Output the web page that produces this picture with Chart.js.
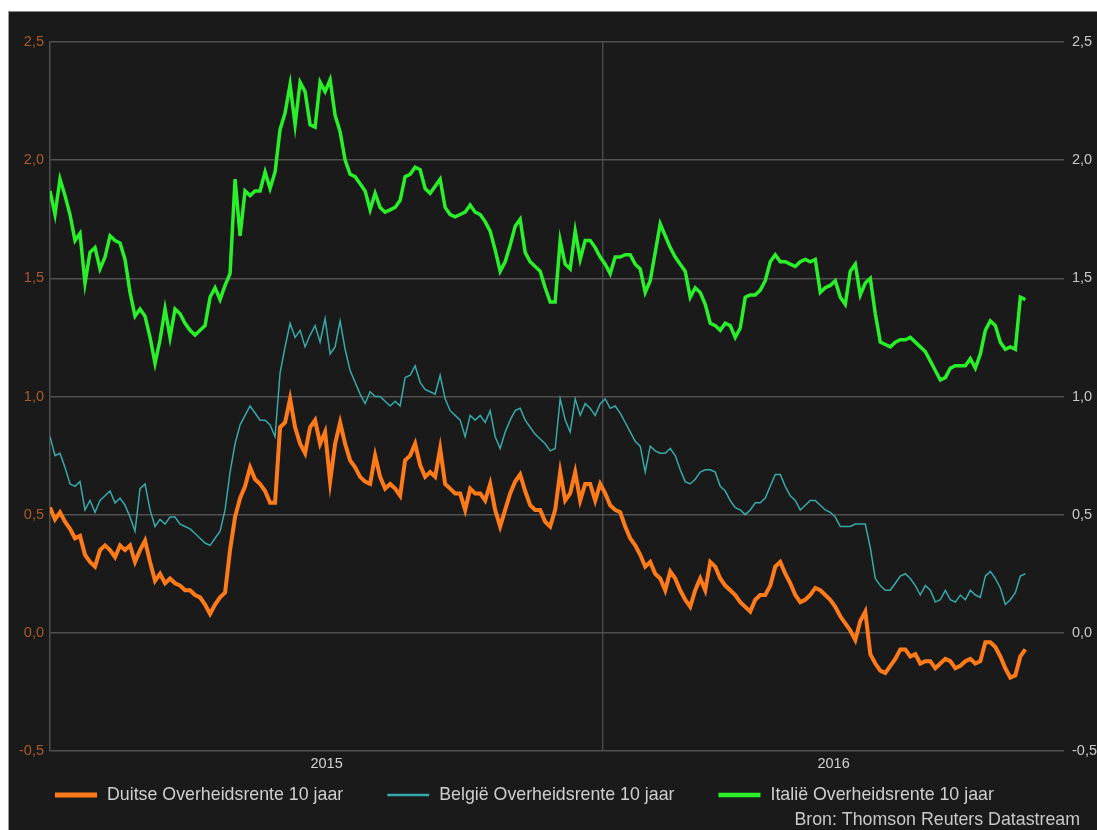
<!DOCTYPE html>
<html>
<head>
<meta charset="utf-8">
<script src="https://cdn.jsdelivr.net/npm/chart.js@4.4.1/dist/chart.umd.min.js"></script>
<style>
  html, body { margin: 0; padding: 0; background: #ffffff; width: 1097px; height: 830px; overflow: hidden; }
  #wrap { position: absolute; left: 8px; top: 11px; width: 1088px; height: 818px; background: #1a1a1a;
          border-left: 1px solid #9a9a9a; border-top: 1px solid #8a8a8a; }
  canvas { display: block; }
</style>
</head>
<body>
<div id="wrap"><canvas id="c" width="1088" height="818"></canvas></div>
<script>
// ---- Data (10-year government bond yields, %) ----
const seriesNames = [
  'Duitse Overheidsrente 10 jaar',
  'België Overheidsrente 10 jaar',
  'Italië Overheidsrente 10 jaar'
];
const yearLabels = ['2015', '2016'];
const sourceText = 'Bron: Thomson Reuters Datastream';

// sample spacing in days from 1 Jan 2015
const stepDays = 3.3;
const yearBoundaryDay = 365;   // 1 Jan 2016
const axisEndDay = 669;

const germany = [
  0.53,0.48,0.51,0.47,0.44,0.40,0.41,0.33,0.30,0.28,
  0.35,0.37,0.35,0.32,0.37,0.35,0.37,0.30,0.35,0.39,
  0.30,0.22,0.25,0.21,0.23,0.21,0.20,0.18,0.18,0.16,
  0.15,0.12,0.08,0.12,0.15,0.17,0.35,0.49,0.57,0.62,
  0.70,0.65,0.63,0.60,0.55,0.55,0.87,0.89,0.99,0.87,
  0.80,0.76,0.87,0.90,0.80,0.85,0.64,0.80,0.89,0.80,
  0.73,0.70,0.66,0.64,0.63,0.75,0.66,0.61,0.63,0.61,
  0.58,0.73,0.75,0.80,0.71,0.66,0.68,0.66,0.78,0.63,
  0.61,0.59,0.59,0.52,0.61,0.59,0.59,0.56,0.63,0.52,
  0.45,0.52,0.59,0.64,0.67,0.60,0.54,0.52,0.52,0.47,
  0.45,0.52,0.68,0.56,0.59,0.68,0.56,0.63,0.63,0.56,
  0.63,0.59,0.54,0.52,0.51,0.45,0.40,0.37,0.33,0.28,
  0.30,0.25,0.23,0.18,0.26,0.23,0.18,0.14,0.11,0.18,
  0.23,0.18,0.30,0.28,0.23,0.20,0.18,0.16,0.13,0.11,
  0.09,0.14,0.16,0.16,0.20,0.28,0.30,0.25,0.21,0.16,
  0.13,0.14,0.16,0.19,0.18,0.16,0.14,0.11,0.07,0.04,
  0.01,-0.03,0.05,0.09,-0.09,-0.13,-0.16,-0.17,-0.14,-0.11,
  -0.07,-0.07,-0.10,-0.09,-0.13,-0.12,-0.12,-0.15,-0.13,-0.11,
  -0.12,-0.15,-0.14,-0.12,-0.11,-0.13,-0.12,-0.04,-0.04,-0.06,
  -0.10,-0.15,-0.19,-0.18,-0.10,-0.07
];

const belgium = [
  0.83,0.75,0.76,0.70,0.63,0.62,0.64,0.52,0.56,0.51,
  0.56,0.58,0.60,0.55,0.57,0.54,0.49,0.43,0.61,0.63,
  0.52,0.45,0.48,0.46,0.49,0.49,0.46,0.45,0.44,0.42,
  0.40,0.38,0.37,0.40,0.43,0.52,0.68,0.80,0.88,0.92,
  0.96,0.93,0.90,0.90,0.88,0.83,1.10,1.21,1.31,1.25,
  1.28,1.21,1.26,1.30,1.23,1.33,1.18,1.21,1.32,1.20,
  1.11,1.06,1.01,0.97,1.02,1.00,1.00,0.98,0.96,0.98,
  0.96,1.08,1.09,1.13,1.06,1.03,1.02,1.01,1.09,0.99,
  0.94,0.92,0.90,0.83,0.92,0.90,0.92,0.89,0.94,0.83,
  0.78,0.85,0.90,0.94,0.95,0.90,0.87,0.84,0.82,0.80,
  0.77,0.78,0.99,0.90,0.85,0.99,0.92,0.97,0.95,0.92,
  0.97,0.99,0.95,0.96,0.93,0.89,0.85,0.81,0.79,0.68,
  0.79,0.77,0.76,0.76,0.78,0.75,0.69,0.64,0.63,0.65,
  0.68,0.69,0.69,0.68,0.62,0.60,0.56,0.53,0.52,0.50,
  0.52,0.55,0.55,0.57,0.62,0.67,0.67,0.62,0.58,0.56,
  0.52,0.54,0.56,0.56,0.54,0.52,0.51,0.49,0.45,0.45,
  0.45,0.46,0.46,0.46,0.36,0.23,0.20,0.18,0.18,0.21,
  0.24,0.25,0.23,0.20,0.16,0.20,0.18,0.13,0.14,0.18,
  0.14,0.13,0.16,0.14,0.18,0.16,0.15,0.24,0.26,0.23,
  0.19,0.12,0.14,0.17,0.24,0.25
];

const italy = [
  1.87,1.77,1.92,1.85,1.77,1.66,1.69,1.48,1.61,1.63,
  1.54,1.59,1.68,1.66,1.65,1.58,1.44,1.34,1.37,1.34,
  1.25,1.14,1.24,1.37,1.25,1.37,1.35,1.31,1.28,1.26,
  1.28,1.30,1.42,1.46,1.41,1.47,1.52,1.92,1.68,1.87,
  1.85,1.87,1.87,1.95,1.88,1.95,2.13,2.20,2.32,2.15,
  2.33,2.29,2.15,2.14,2.33,2.29,2.34,2.19,2.12,2.00,
  1.94,1.93,1.90,1.87,1.79,1.86,1.80,1.78,1.79,1.80,
  1.83,1.93,1.94,1.97,1.96,1.88,1.86,1.89,1.92,1.80,
  1.77,1.76,1.77,1.78,1.81,1.78,1.77,1.74,1.70,1.62,
  1.53,1.57,1.64,1.72,1.75,1.61,1.57,1.55,1.53,1.46,
  1.40,1.40,1.66,1.56,1.54,1.70,1.58,1.66,1.66,1.63,
  1.59,1.56,1.52,1.59,1.59,1.60,1.60,1.56,1.54,1.44,
  1.49,1.61,1.73,1.68,1.63,1.59,1.56,1.53,1.42,1.46,
  1.44,1.39,1.31,1.30,1.28,1.31,1.30,1.25,1.29,1.42,
  1.43,1.43,1.45,1.49,1.57,1.60,1.57,1.57,1.56,1.55,
  1.57,1.58,1.57,1.58,1.44,1.46,1.47,1.49,1.42,1.39,
  1.53,1.56,1.43,1.48,1.50,1.35,1.23,1.22,1.21,1.23,
  1.24,1.24,1.25,1.23,1.21,1.19,1.15,1.11,1.07,1.08,
  1.12,1.13,1.13,1.13,1.16,1.12,1.18,1.28,1.32,1.30,
  1.23,1.20,1.21,1.20,1.42,1.41
];

const yMin = -0.5, yMax = 2.5, yStep = 0.5;

// ---- Styling ----
const SANS = '"Liberation Sans", Arial, sans-serif';
const fmt = v => (Math.round(v * 10) / 10).toFixed(1).replace('.', ',');
const toPoints = arr => arr.map((v, i) => ({ x: i * stepDays, y: v }));

const legendAndSource = {
  id: 'legendAndSource',
  afterDraw(chart) {
    const ctx = chart.ctx;
    ctx.save();
    ctx.font = '17.8px ' + SANS;
    ctx.textBaseline = 'middle';
    ctx.textAlign = 'left';
    let x = 46;
    const y = 783;
    chart.data.datasets.forEach(ds => {
      ctx.strokeStyle = ds.borderColor;
      ctx.lineWidth = Math.max(ds.borderWidth + 1, 2.5);
      ctx.beginPath();
      ctx.moveTo(x, y);
      ctx.lineTo(x + 42, y);
      ctx.stroke();
      ctx.fillStyle = '#cfcfcf';
      ctx.fillText(ds.label, x + 52, y);
      x += 52 + ctx.measureText(ds.label).width + 44;
    });
    ctx.textAlign = 'right';
    ctx.fillStyle = '#c8c8c8';
    ctx.fillText(sourceText, 1071, 808);
    ctx.restore();
  }
};

new Chart(document.getElementById('c'), {
  type: 'line',
  data: {
    datasets: [
      { label: seriesNames[0], data: toPoints(germany), borderColor: '#ff7b1a', borderWidth: 4,
        pointRadius: 0, tension: 0, yAxisID: 'y' },
      { label: seriesNames[1], data: toPoints(belgium), borderColor: '#37a9a9', borderWidth: 1.5,
        pointRadius: 0, tension: 0, yAxisID: 'y' },
      { label: seriesNames[2], data: toPoints(italy), borderColor: '#2af02a', borderWidth: 3.5,
        pointRadius: 0, tension: 0, yAxisID: 'y' }
    ]
  },
  options: {
    responsive: false,
    animation: false,
    events: [],
    layout: { padding: { top: 30, left: 0, right: 0, bottom: 57 } },
    plugins: { legend: { display: false }, tooltip: { enabled: false } },
    scales: {
      x: {
        type: 'linear', min: 0, max: axisEndDay,
        afterBuildTicks: s => {
          s.ticks = [
            { value: yearBoundaryDay / 2 },
            { value: yearBoundaryDay },
            { value: (yearBoundaryDay + axisEndDay) / 2 }
          ];
        },
        afterFit: s => { s.height = 22; },
        ticks: {
          autoSkip: false, maxRotation: 0, minRotation: 0, padding: 4,
          color: '#d2d2d2', font: { family: SANS, size: 14.5 },
          callback: v => v === yearBoundaryDay / 2 ? yearLabels[0]
                       : v === (yearBoundaryDay + axisEndDay) / 2 ? yearLabels[1] : ''
        },
        grid: {
          drawTicks: false, lineWidth: 1.5,
          color: c => (c.tick && c.tick.value === yearBoundaryDay) ? '#474747' : 'rgba(0,0,0,0)'
        },
        border: { display: false }
      },
      y: {
        position: 'left', min: yMin, max: yMax,
        afterFit: s => { s.width = 41; },
        ticks: { stepSize: yStep, padding: 6, color: '#a85b2c', font: { family: SANS, size: 14.5 },
                 callback: v => fmt(v) },
        grid: { color: '#505050', lineWidth: 1.5, drawTicks: false },
        border: { display: true, color: '#505050', width: 1.5 }
      },
      y2: {
        position: 'right', min: yMin, max: yMax,
        afterFit: s => { s.width = 33; },
        ticks: { stepSize: yStep, padding: 8, color: '#c8c8c8', font: { family: SANS, size: 14.5 },
                 callback: v => fmt(v) },
        grid: { display: false, drawTicks: false },
        border: { display: false }
      }
    }
  },
  plugins: [legendAndSource]
});
</script>
</body>
</html>
